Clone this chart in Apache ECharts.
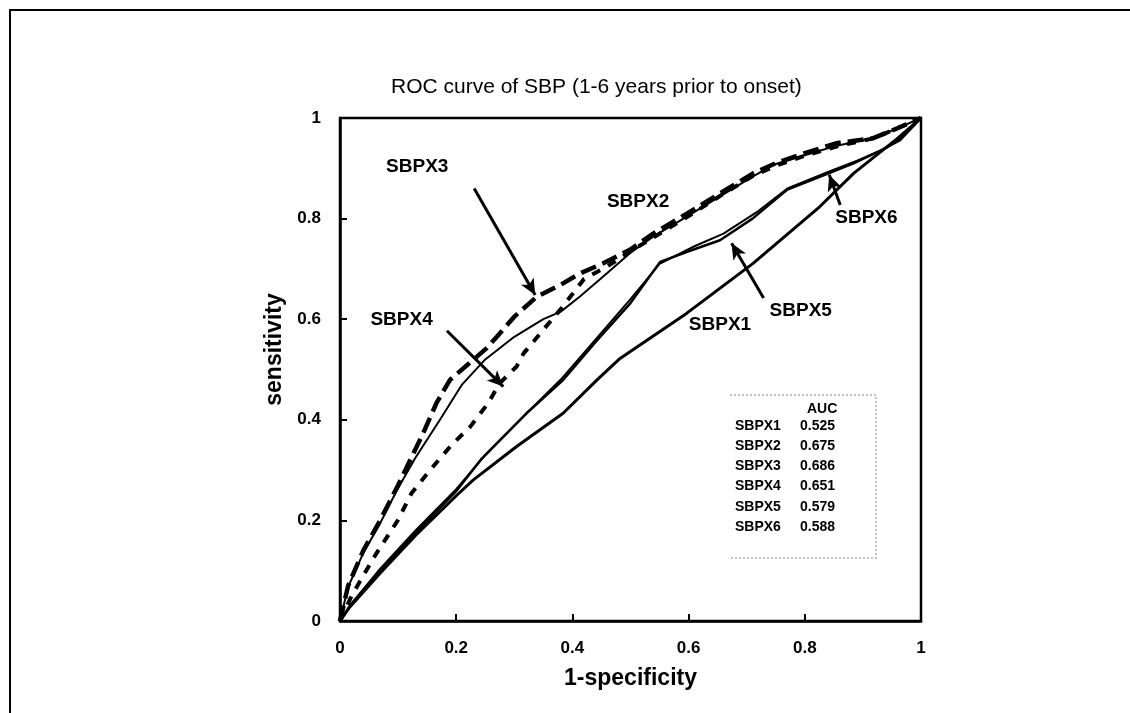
<!DOCTYPE html>
<html>
<head>
<meta charset="utf-8">
<script src="https://cdn.jsdelivr.net/npm/echarts@6/dist/echarts.min.js"></script>
<style>
  html, body { margin: 0; padding: 0; background: #fff; }
  #chart { width: 1130px; height: 713px; }
</style>
</head>
<body>
<div id="chart"></div>
<script>
// ROC curves (x = 1-specificity, y = sensitivity)
const sbpx1X = [0, 0.017, 0.069, 0.13, 0.201, 0.229, 0.304, 0.384, 0.442, 0.482, 0.597, 0.711, 0.826, 0.884, 0.958, 0.98, 1];
const sbpx1Y = [0, 0.028, 0.095, 0.17, 0.25, 0.28, 0.347, 0.413, 0.479, 0.522, 0.612, 0.711, 0.824, 0.89, 0.958, 0.98, 1];

const sbpx2X = [0, 0.014, 0.04, 0.069, 0.098, 0.129, 0.172, 0.21, 0.25, 0.3, 0.35, 0.38, 0.413, 0.459, 0.499, 0.539, 0.597, 0.654, 0.711, 0.746, 0.797, 0.855, 0.918, 0.96, 1];
const sbpx2Y = [0, 0.068, 0.135, 0.194, 0.26, 0.323, 0.4, 0.47, 0.52, 0.565, 0.6, 0.615, 0.645, 0.691, 0.731, 0.764, 0.804, 0.844, 0.884, 0.907, 0.925, 0.945, 0.96, 0.98, 1];

const sbpx3X = [0, 0.014, 0.04, 0.069, 0.1, 0.143, 0.166, 0.189, 0.22, 0.252, 0.27, 0.3, 0.339, 0.379, 0.413, 0.453, 0.499, 0.539, 0.597, 0.654, 0.711, 0.75, 0.8, 0.855, 0.918, 0.96, 1];
const sbpx3Y = [0, 0.07, 0.14, 0.2, 0.27, 0.373, 0.433, 0.479, 0.51, 0.542, 0.565, 0.605, 0.645, 0.668, 0.691, 0.711, 0.738, 0.77, 0.81, 0.85, 0.89, 0.91, 0.93, 0.95, 0.96, 0.98, 1];

const sbpx4X = [0, 0.02, 0.04, 0.063, 0.1, 0.123, 0.155, 0.192, 0.224, 0.255, 0.275, 0.304, 0.316, 0.35, 0.38, 0.42, 0.46, 0.5, 0.55, 0.6, 0.654, 0.711, 0.75, 0.8, 0.86, 0.92, 0.96, 1];
const sbpx4Y = [0, 0.05, 0.09, 0.135, 0.201, 0.254, 0.3, 0.35, 0.386, 0.433, 0.473, 0.506, 0.532, 0.579, 0.62, 0.68, 0.705, 0.735, 0.77, 0.805, 0.845, 0.885, 0.905, 0.925, 0.945, 0.96, 0.98, 1];

const sbpx5X = [0, 0.017, 0.069, 0.13, 0.2, 0.244, 0.304, 0.321, 0.384, 0.44, 0.5, 0.551, 0.6, 0.654, 0.71, 0.769, 0.83, 0.884, 0.93, 0.964, 1];
const sbpx5Y = [0, 0.03, 0.1, 0.175, 0.258, 0.323, 0.393, 0.413, 0.479, 0.555, 0.632, 0.714, 0.735, 0.757, 0.8, 0.857, 0.885, 0.91, 0.935, 0.956, 1];

const sbpx6X = [0, 0.02, 0.07, 0.13, 0.2, 0.25, 0.31, 0.38, 0.44, 0.5, 0.55, 0.61, 0.66, 0.72, 0.77, 0.84, 0.89, 0.94, 0.97, 1];
const sbpx6Y = [0, 0.035, 0.105, 0.18, 0.262, 0.33, 0.4, 0.48, 0.56, 0.64, 0.71, 0.745, 0.77, 0.815, 0.86, 0.893, 0.915, 0.94, 0.965, 1];

// AUC table
const aucNames = ['SBPX1', 'SBPX2', 'SBPX3', 'SBPX4', 'SBPX5', 'SBPX6'];
const aucValues = ['0.525', '0.675', '0.686', '0.651', '0.579', '0.588'];

// curve labels [text, x, y] and arrows [fromX, fromY, toX, toY]
const curveLabels = [
  ['SBPX3', 0.133, 0.903],
  ['SBPX4', 0.106, 0.598],
  ['SBPX2', 0.513, 0.834],
  ['SBPX6', 0.906, 0.801],
  ['SBPX5', 0.793, 0.617],
  ['SBPX1', 0.654, 0.588]
];
const arrows = [
  [0.231, 0.860, 0.336, 0.648],
  [0.184, 0.577, 0.281, 0.466],
  [0.861, 0.827, 0.842, 0.887],
  [0.729, 0.642, 0.674, 0.751]
];

const pairs = (xs, ys) => xs.map((x, i) => [x, ys[i]]);
const font = '"Liberation Sans", Arial, sans-serif';

const chart = echarts.init(document.getElementById('chart'));

const lineSeries = (name, xs, ys, width, type) => ({
  name: name,
  type: 'line',
  data: pairs(xs, ys),
  showSymbol: false,
  smooth: false,
  animation: false,
  lineStyle: { color: '#000', width: width, type: type }
});

const annot = lineSeries('notes', [], [], 0, 'solid');
annot.markLine = {
  silent: true,
  animation: false,
  symbolSize: [11, 16],
  label: { show: false },
  lineStyle: { color: '#000', width: 3, type: 'solid' },
  data: arrows.map(a => [
    { coord: [a[0], a[1]], symbol: 'none' },
    { coord: [a[2], a[3]], symbol: 'arrow' }
  ])
};
annot.markPoint = {
  silent: true,
  animation: false,
  symbol: 'circle',
  symbolSize: 0,
  label: {
    show: true,
    position: 'inside',
    formatter: '{b}',
    color: '#000',
    fontFamily: font,
    fontWeight: 'bold',
    fontSize: 19
  },
  data: curveLabels.map(l => ({ name: l[0], coord: [l[1], l[2]] }))
};

const graphics = [
  {
    type: 'polyline',
    shape: { points: [[1130, 10], [10, 10], [10, 713]] },
    style: { stroke: '#000', lineWidth: 2, fill: null }
  },
  {
    type: 'text',
    left: 391,
    top: 77,
    style: { text: 'ROC curve of SBP (1-6 years prior to onset)', font: '21px ' + font, fill: '#000' }
  },
  {
    type: 'polyline',
    shape: { points: [[730, 395], [876, 395], [876, 558], [730, 558]] },
    style: { stroke: '#b0b0b0', lineWidth: 1.5, lineDash: [2, 2], fill: null }
  },
  {
    type: 'text',
    left: 807,
    top: 402,
    style: { text: 'AUC', font: 'bold 14px ' + font, fill: '#000' }
  }
];
aucNames.forEach((n, i) => {
  const top = 419 + i * 20.2;
  graphics.push({ type: 'text', left: 735, top: top, style: { text: n, font: 'bold 14px ' + font, fill: '#000' } });
  graphics.push({ type: 'text', left: 800, top: top, style: { text: aucValues[i], font: 'bold 14px ' + font, fill: '#000' } });
});

const option = {
  backgroundColor: '#fff',
  animation: false,
  grid: {
    left: 340, right: 209, top: 118, bottom: 92,
    show: true, borderColor: '#000', borderWidth: 2.5
  },
  xAxis: {
    type: 'value', min: 0, max: 1, interval: 0.2,
    name: '1-specificity', nameLocation: 'middle', nameGap: 46,
    nameTextStyle: { color: '#000', fontFamily: font, fontWeight: 'bold', fontSize: 23 },
    axisLine: { show: true, lineStyle: { color: '#000', width: 2.5 } },
    axisTick: { show: true, inside: true, length: 7, lineStyle: { color: '#000', width: 2 } },
    axisLabel: { color: '#000', fontFamily: font, fontWeight: 'bold', fontSize: 17, margin: 19 },
    splitLine: { show: false }
  },
  yAxis: {
    type: 'value', min: 0, max: 1, interval: 0.2,
    name: 'sensitivity', nameLocation: 'middle', nameGap: 52,
    nameTextStyle: { color: '#000', fontFamily: font, fontWeight: 'bold', fontSize: 23, padding: [0, 0, 0, 40] },
    axisLine: { show: true, lineStyle: { color: '#000', width: 2.5 } },
    axisTick: { show: true, inside: true, length: 7, lineStyle: { color: '#000', width: 2 } },
    axisLabel: { color: '#000', fontFamily: font, fontWeight: 'bold', fontSize: 17, margin: 19 },
    splitLine: { show: false }
  },
  series: [
    lineSeries('SBPX1', sbpx1X, sbpx1Y, 3, 'solid'),
    lineSeries('SBPX5', sbpx5X, sbpx5Y, 2.5, 'solid'),
    lineSeries('SBPX6', sbpx6X, sbpx6Y, 2, 'solid'),
    lineSeries('SBPX2', sbpx2X, sbpx2Y, 2, 'solid'),
    lineSeries('SBPX3', sbpx3X, sbpx3Y, 4.5, [16, 7]),
    lineSeries('SBPX4', sbpx4X, sbpx4Y, 4, [9, 9]),
    annot
  ],
  graphic: graphics
};

chart.setOption(option);
</script>
</body>
</html>
